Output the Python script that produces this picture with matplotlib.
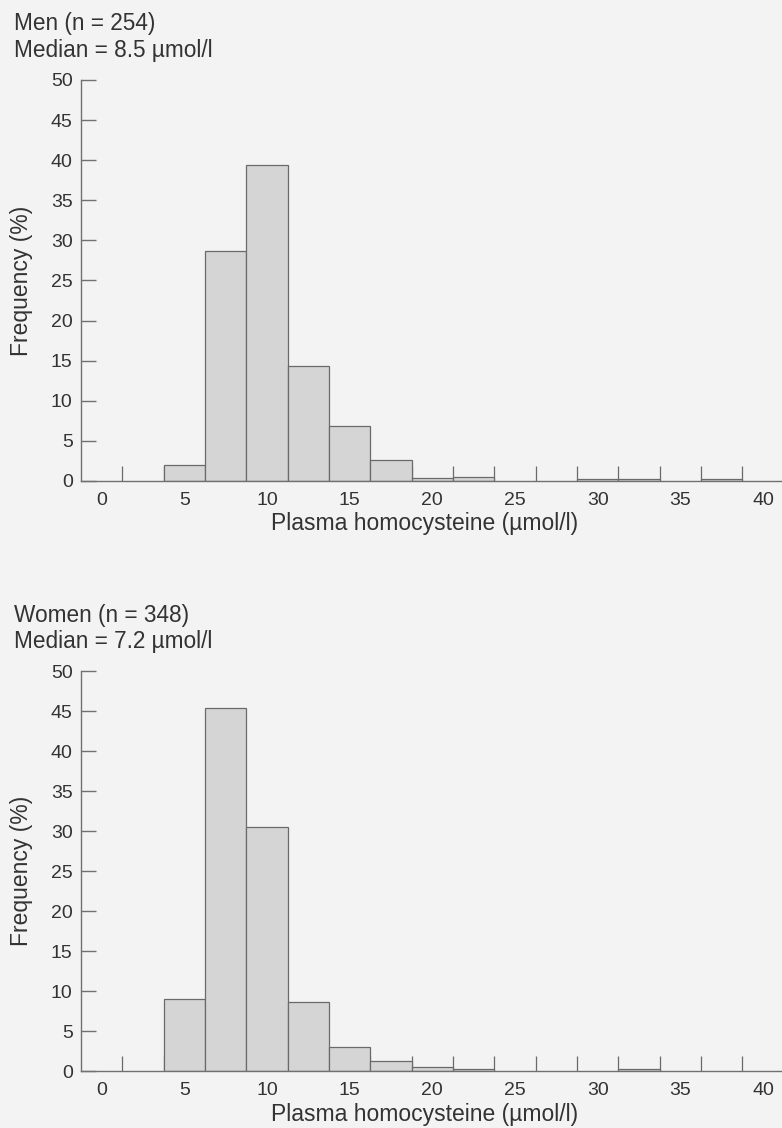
import matplotlib
matplotlib.use("Agg")
import matplotlib.pyplot as plt

# bin centres (µmol/l), bins are 2.5 wide
bin_centers = [0, 2.5, 5, 7.5, 10, 12.5, 15, 17.5, 20, 22.5, 25, 27.5, 30, 32.5, 35, 37.5, 40]
men_freq = [0, 0, 2.0, 28.7, 39.4, 14.4, 6.9, 2.6, 0.35, 0.45, 0, 0, 0.3, 0.3, 0, 0.3, 0]
women_freq = [0, 0, 9.0, 45.4, 30.5, 8.6, 3.0, 1.2, 0.5, 0.3, 0, 0, 0, 0.3, 0, 0, 0]

men_title = ["Men (n = 254)", "Median = 8.5 \u00b5mol/l"]
women_title = ["Women (n = 348)", "Median = 7.2 \u00b5mol/l"]
xticks = [0, 5, 10, 15, 20, 25, 30, 35, 40]
yticks = [0, 5, 10, 15, 20, 25, 30, 35, 40, 45, 50]
bin_width = 2.5
edge_mark = 1.9

C = {
    "bg": "#f3f3f3",
    "text": "#333333",
    "axis": "#707070",
    "edge": "#6a6a6a",
    "fill": "#d5d5d5",
}

plt.rcParams["font.family"] = ["Liberation Sans", "DejaVu Sans"]

W, H = 782, 1128
fig = plt.figure(figsize=(W / 100, H / 100), dpi=100)
fig.patch.set_facecolor(C["bg"])


def panel(top_px, bottom_px, freq, title, title_base):
    ax = fig.add_axes([81 / W, 1 - bottom_px / H, (W - 81) / W, (bottom_px - top_px) / H])
    ax.set_facecolor("none")
    edges = [c + bin_width / 2 for c in bin_centers[:-1]]
    ax.vlines(edges, 0, edge_mark, color=C["edge"], lw=0.9, zorder=1)
    xs = [c for c, f in zip(bin_centers, freq) if f > 0]
    hs = [f for f in freq if f > 0]
    ax.bar(xs, hs, width=bin_width, color=C["fill"], edgecolor=C["edge"],
           linewidth=0.9, zorder=2)
    ax.set_xlim(-1.25, 41.15)
    ax.set_ylim(0, 50)
    for s in ["top", "right"]:
        ax.spines[s].set_visible(False)
    for s in ["left", "bottom"]:
        ax.spines[s].set_color(C["axis"])
        ax.spines[s].set_linewidth(1.0)
    ax.set_yticks(yticks)
    ax.set_xticks(xticks)
    ax.tick_params(axis="y", direction="in", length=11, width=1.0, color=C["axis"],
                   labelsize=14, labelcolor=C["text"], pad=6)
    ax.tick_params(axis="x", length=0, labelsize=14, labelcolor=C["text"], pad=8)
    ax.set_ylabel("Frequency (%)", fontsize=16.5, color=C["text"])
    ax.yaxis.set_label_coords(-59 / (W - 81), 0.5)
    ax.yaxis.label.set_va("center")
    ax.set_xlabel("Plasma homocysteine (\u00b5mol/l)", fontsize=16.5, color=C["text"])
    ax.xaxis.set_label_coords(0.49, -43 / (bottom_px - top_px))
    ax.xaxis.label.set_va("center")
    fig.text(14 / W, 1 - title_base / H, title[0], fontsize=16.3, color=C["text"], va="baseline")
    fig.text(14 / W, 1 - (title_base + 26.7) / H, title[1], fontsize=16.3, color=C["text"], va="baseline")
    return ax


panel(80, 481, men_freq, men_title, 30)
panel(671, 1071, women_freq, women_title, 621.7)

fig.savefig("out.png", dpi=100, facecolor=C["bg"])
